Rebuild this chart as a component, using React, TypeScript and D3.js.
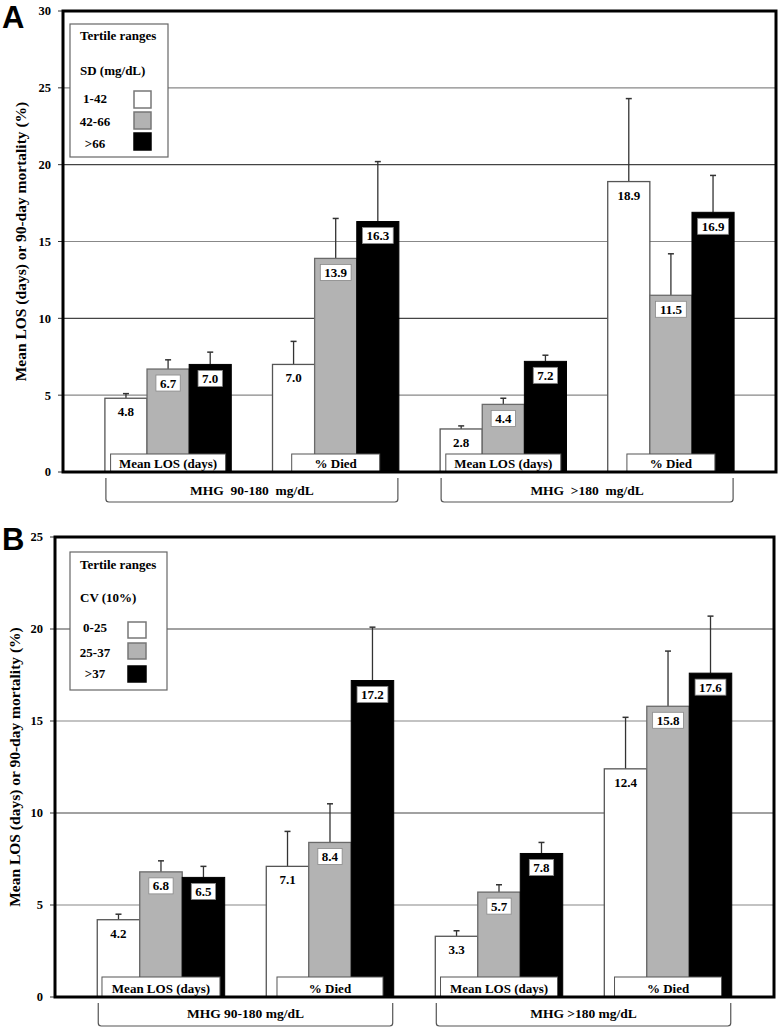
import React from "react";
import * as d3 from "d3";

// ---------- DATA ----------
const groupLabels = ["Mean LOS (days)", "% Died", "Mean LOS (days)", "% Died"];
const bracketLabelsA = ["MHG  90-180  mg/dL", "MHG  >180  mg/dL"];
const bracketLabelsB = ["MHG 90-180 mg/dL", "MHG >180 mg/dL"];

const tertilesA = ["1-42", "42-66", ">66"];
const tertilesB = ["0-25", "25-37", ">37"];

// Panel A (SD)
const sdLow = [4.8, 7.0, 2.8, 18.9];
const sdMid = [6.7, 13.9, 4.4, 11.5];
const sdHigh = [7.0, 16.3, 7.2, 16.9];
const sdLowErrTop = [5.1, 8.5, 3.0, 24.3];
const sdMidErrTop = [7.3, 16.5, 4.8, 14.2];
const sdHighErrTop = [7.8, 20.2, 7.6, 19.3];

// Panel B (CV)
const cvLow = [4.2, 7.1, 3.3, 12.4];
const cvMid = [6.8, 8.4, 5.7, 15.8];
const cvHigh = [6.5, 17.2, 7.8, 17.6];
const cvLowErrTop = [4.5, 9.0, 3.6, 15.2];
const cvMidErrTop = [7.4, 10.5, 6.1, 18.8];
const cvHighErrTop = [7.1, 20.1, 8.4, 20.7];

const ticksA = [0, 5, 10, 15, 20, 25, 30];
const ticksB = [0, 5, 10, 15, 20, 25];

const yTitle = "Mean LOS (days) or 90-day mortality (%)";

// ---------- STYLE ----------
const SERIF = "'Liberation Serif', 'Times New Roman', serif";
const SANS = "'Liberation Sans', Arial, sans-serif";
const FILLS = ["#ffffff", "#b3b3b3", "#000000"];
const STROKES = ["#555555", "#6a6a6a", "#000000"];

type PanelProps = {
  letter: string;
  letterY: number;
  x0: number;
  x1: number;
  yTop: number;
  yBottom: number;
  yMax: number;
  ticks: number[];
  tickLabelX: number;
  values: number[][];
  errs: number[][];
  tertiles: string[];
  legendTitle: string;
  legend: { x: number; y: number; w: number; h: number; l1: number; l2: number; rows: number[]; swX: number; swW: number; swH: number; swY: number[] };
  catWidths: number[];
  catTop: number;
  brackets: string[];
  brY0: number;
  brY1: number;
  brTextY: number;
  titleX: number;
};

function Panel(p: PanelProps) {
  const y = d3.scaleLinear().domain([0, p.yMax]).range([p.yBottom, p.yTop]);
  const gx = d3
    .scaleBand<number>()
    .domain(d3.range(groupLabels.length))
    .range([p.x0, p.x1])
    .paddingInner(0.246)
    .paddingOuter(0.25);
  const sx = d3
    .scaleBand<number>()
    .domain([0, 1, 2])
    .range([0, gx.bandwidth()]);
  const bw = sx.bandwidth();

  const labelW = (s: string) => s.replace(".", "").length * 6.5 + 3.3 + 8;

  return (
    <g>
      {/* panel letter */}
      <text x={2} y={p.letterY} fontFamily={SANS} fontWeight="bold" fontSize={31}>
        {p.letter}
      </text>
      {/* y title */}
      <text
        transform={`translate(${p.titleX},${(p.yTop + p.yBottom) / 2}) rotate(-90)`}
        textAnchor="middle"
        dominantBaseline="central"
        fontFamily={SERIF}
        fontWeight="bold"
        fontSize={15.5}
      >
        {yTitle}
      </text>
      {/* gridlines */}
      {p.ticks
        .filter((t) => t > 0 && t < p.yMax)
        .map((t) => (
          <line
            key={"g" + t}
            x1={p.x0}
            x2={p.x1}
            y1={y(t)}
            y2={y(t)}
            stroke={t % 10 === 0 ? "#444" : "#888"}
            strokeWidth={1.2}
          />
        ))}
      {/* ticks + labels */}
      {p.ticks.map((t) => (
        <g key={"t" + t}>
          <line x1={p.x0 - 5} x2={p.x0} y1={y(t)} y2={y(t)} stroke="#333" strokeWidth={1} />
          <text
            x={p.tickLabelX}
            y={y(t)}
            dy="0.35em"
            textAnchor="end"
            fontFamily={SERIF}
            fontWeight="bold"
            fontSize={12.5}
          >
            {t}
          </text>
        </g>
      ))}
      {/* legend */}
      <g>
        <rect x={p.legend.x} y={p.legend.y} width={p.legend.w} height={p.legend.h} fill="#fff" stroke="#666" strokeWidth={1.2} />
        <text x={p.legend.x + 10} y={p.legend.l1} fontFamily={SERIF} fontWeight="bold" fontSize={13}>
          Tertile ranges
        </text>
        <text x={p.legend.x + 10} y={p.legend.l2} fontFamily={SERIF} fontWeight="bold" fontSize={13}>
          {p.legendTitle}
        </text>
        {p.tertiles.map((t, i) => (
          <g key={"lg" + i}>
            <text x={p.legend.x + 25} y={p.legend.rows[i]} textAnchor="middle" fontFamily={SERIF} fontWeight="bold" fontSize={13}>
              {t}
            </text>
            <rect
              x={p.legend.swX}
              y={p.legend.swY[i]}
              width={p.legend.swW}
              height={p.legend.swH}
              fill={FILLS[i]}
              stroke={i === 2 ? "#000" : "#777"}
              strokeWidth={1.5}
            />
          </g>
        ))}
      </g>
      {/* bars */}
      {groupLabels.map((_, gi) => (
        <g key={"grp" + gi} transform={`translate(${gx(gi)},0)`}>
          {[0, 1, 2].map((si) => {
            const v = p.values[si][gi];
            const bx = sx(si) as number;
            const top = y(v);
            const et = y(p.errs[si][gi]);
            const cx = bx + bw / 2;
            const lbl = v.toFixed(1);
            const lw = labelW(lbl);
            return (
              <g key={"b" + si}>
                <line x1={cx} x2={cx} y1={top} y2={et} stroke="#333" strokeWidth={1.3} />
                <line x1={cx - 3} x2={cx + 3} y1={et} y2={et} stroke="#333" strokeWidth={1.5} />
                <rect
                  x={bx}
                  y={top}
                  width={bw}
                  height={p.yBottom - top}
                  fill={FILLS[si]}
                  stroke={STROKES[si]}
                  strokeWidth={si === 2 ? 1 : 1.3}
                />
                {si === 0 ? (
                  <text x={cx} y={top + 18} textAnchor="middle" fontFamily={SERIF} fontWeight="bold" fontSize={13}>
                    {lbl}
                  </text>
                ) : (
                  <g>
                    <rect x={cx - lw / 2} y={top + 6} width={lw} height={16} fill="#fff" stroke="#888" strokeWidth={0.8} />
                    <text x={cx} y={top + 18.5} textAnchor="middle" fontFamily={SERIF} fontWeight="bold" fontSize={13}>
                      {lbl}
                    </text>
                  </g>
                )}
              </g>
            );
          })}
          {/* category box */}
          <rect
            x={gx.bandwidth() / 2 - p.catWidths[gi] / 2}
            y={p.catTop}
            width={p.catWidths[gi]}
            height={p.yBottom - p.catTop}
            fill="#fff"
            stroke="#555"
            strokeWidth={1}
          />
          <text
            x={gx.bandwidth() / 2}
            y={p.yBottom - 4}
            textAnchor="middle"
            fontFamily={SERIF}
            fontWeight="bold"
            fontSize={13}
          >
            {groupLabels[gi]}
          </text>
        </g>
      ))}
      {/* frame */}
      <rect x={p.x0} y={p.yTop} width={p.x1 - p.x0} height={p.yBottom - p.yTop} fill="none" stroke="#000" strokeWidth={3} />
      {/* brackets */}
      {p.brackets.map((b, bi) => {
        const a = (gx(bi * 2) as number) + 1;
        const e = (gx(bi * 2 + 1) as number) + gx.bandwidth() - 1;
        const r = 3;
        const d = `M${a},${p.brY0} V${p.brY1 - r} Q${a},${p.brY1} ${a + r},${p.brY1} H${e - r} Q${e},${p.brY1} ${e},${p.brY1 - r} V${p.brY0}`;
        return (
          <g key={"br" + bi}>
            <path d={d} fill="none" stroke="#555" strokeWidth={1.2} />
            <text
              x={(a + e) / 2}
              y={p.brTextY}
              textAnchor="middle"
              fontFamily={SERIF}
              fontWeight="bold"
              fontSize={13.5}
              style={{ whiteSpace: "pre" }}
            >
              {b}
            </text>
          </g>
        );
      })}
    </g>
  );
}

export default function App() {
  return (
    <svg
      width={782}
      height={1030}
      viewBox="0 0 782 1030"
      style={{ position: "absolute", left: 0, top: 0, background: "#fff" }}
    >
      <rect x={0} y={0} width={782} height={1030} fill="#fff" />
      <Panel
        letter="A"
        letterY={28}
        x0={63}
        x1={776}
        yTop={11}
        yBottom={472}
        yMax={30}
        ticks={ticksA}
        tickLabelX={51}
        values={[sdLow, sdMid, sdHigh]}
        errs={[sdLowErrTop, sdMidErrTop, sdHighErrTop]}
        tertiles={tertilesA}
        legendTitle="SD (mg/dL)"
        legend={{ x: 70, y: 24, w: 98, h: 133, l1: 40, l2: 75, rows: [103, 126, 148], swX: 134, swW: 17, swH: 17, swY: [91, 112, 133] }}
        catWidths={[115, 88, 115, 88]}
        catTop={454}
        brackets={bracketLabelsA}
        brY0={478}
        brY1={502}
        brTextY={495}
        titleX={20}
      />
      <Panel
        letter="B"
        letterY={550}
        x0={55}
        x1={774}
        yTop={537}
        yBottom={997}
        yMax={25}
        ticks={ticksB}
        tickLabelX={43}
        values={[cvLow, cvMid, cvHigh]}
        errs={[cvLowErrTop, cvMidErrTop, cvHighErrTop]}
        tertiles={tertilesB}
        legendTitle="CV (10%)"
        legend={{ x: 70, y: 552, w: 97, h: 138, l1: 569, l2: 602, rows: [632, 657, 678], swX: 128, swW: 18, swH: 16, swY: [622, 643, 666] }}
        catWidths={[118, 106, 117, 107]}
        catTop={977}
        brackets={bracketLabelsB}
        brY0={1003}
        brY1={1026}
        brTextY={1018}
        titleX={14}
      />
    </svg>
  );
}
